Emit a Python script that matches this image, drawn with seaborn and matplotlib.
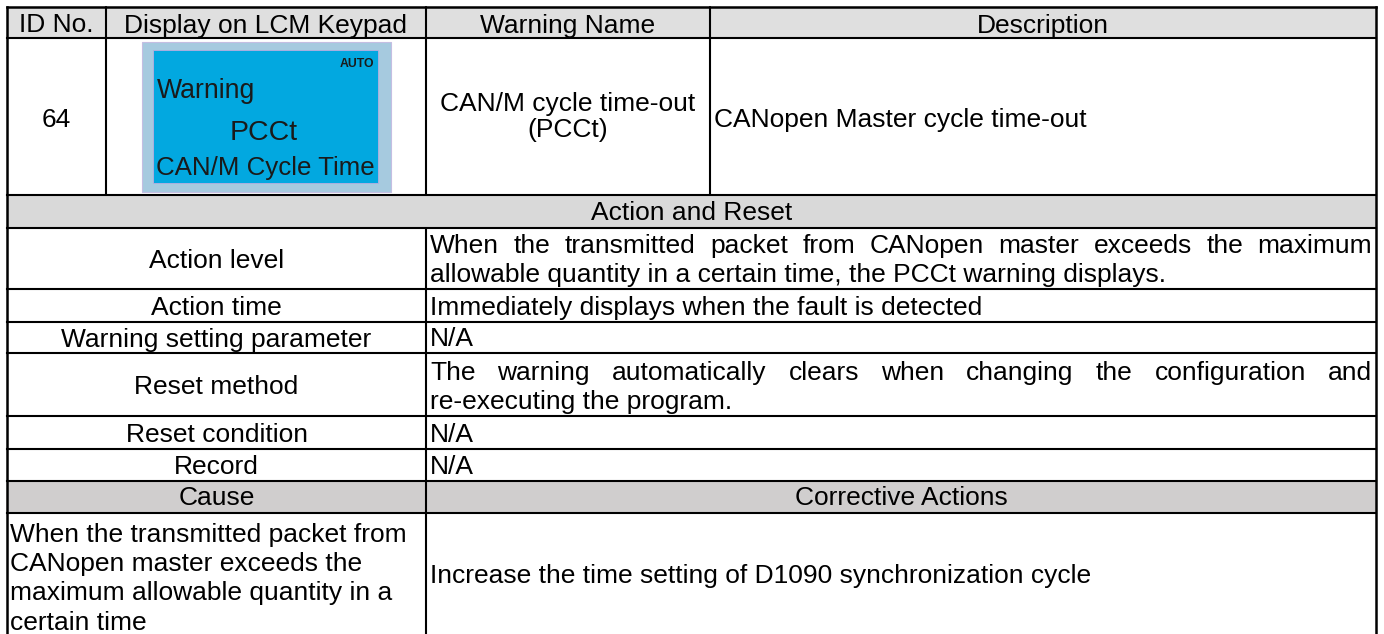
import matplotlib
matplotlib.use("Agg")
import matplotlib.pyplot as plt
import seaborn as sns
from matplotlib.patches import Rectangle

sns.set_theme(style="white")
plt.rcParams["font.family"] = ["Liberation Sans", "DejaVu Sans"]

# ---------------- data (table content) ----------------
header_labels = ["ID No.", "Display on LCM Keypad", "Warning Name", "Description"]
warning_id = "64"
lcm_mode = "AUTO"
lcm_lines = ["Warning", "PCCt", "CAN/M Cycle Time"]
warning_name = ["CAN/M cycle time-out", "(PCCt)"]
description = "CANopen Master cycle time-out"
section_title = "Action and Reset"
action_items = ["Action level", "Action time", "Warning setting parameter",
                "Reset method", "Reset condition", "Record"]
action_values = [
    ["When the transmitted packet from CANopen master exceeds the maximum",
     "allowable quantity in a certain time, the PCCt warning displays."],
    ["Immediately displays when the fault is detected"],
    ["N/A"],
    ["The warning automatically clears when changing the configuration and",
     "re-executing the program."],
    ["N/A"],
    ["N/A"],
]
cause_header = ["Cause", "Corrective Actions"]
cause_lines = ["When the transmitted packet from", "CANopen master exceeds the",
               "maximum allowable quantity in a", "certain time"]
corrective_action = "Increase the time setting of D1090 synchronization cycle"

# ---------------- layout (pixels) ----------------
W, H = 1384, 634
L, R, T = 7, 1376, 7
col_top = [L, 106, 426, 710, R]
col_mid = 426
row_edges = [7, 38, 195, 228, 289, 322, 353, 416, 449, 481, 513]
FS = 19
LINE = 29.3

fig = plt.figure(figsize=(W / 100, H / 100), dpi=100)
ax = fig.add_axes([0, 0, 1, 1])
ax.set_xlim(0, W)
ax.set_ylim(H, 0)
ax.axis("off")
renderer = fig.canvas.get_renderer()

# fills
ax.add_patch(Rectangle((L, row_edges[0]), R - L, row_edges[1] - row_edges[0],
                       fc="#DFDFDF", ec="none", zorder=0))
ax.add_patch(Rectangle((L, row_edges[2]), R - L, row_edges[3] - row_edges[2],
                       fc="#D9D9D9", ec="none", zorder=0))
ax.add_patch(Rectangle((L, row_edges[9]), R - L, row_edges[10] - row_edges[9],
                       fc="#D0CECE", ec="none", zorder=0))

# LCD picture
ax.add_patch(Rectangle((142, 42), 249, 150, fc="#A6CADF", ec="#C4BEE2", lw=0.8, zorder=1))
ax.add_patch(Rectangle((153, 50), 225, 133, fc="#02A8E0", ec="#B8AEE0", lw=0.6, zorder=1))
lcd_col = "#1A1A1A"
ax.text(374, 67, lcm_mode, fontsize=8.8, fontweight="bold", ha="right", va="baseline",
        color=lcd_col, zorder=2)
ax.text(157, 98, lcm_lines[0], fontsize=19.2, ha="left", va="baseline", color=lcd_col, zorder=2)
ax.text(264, 140, lcm_lines[1], fontsize=20.5, ha="center", va="baseline", color=lcd_col, zorder=2)
ax.text(265, 175, lcm_lines[2], fontsize=18.6, ha="center", va="baseline", color=lcd_col, zorder=2)

# grid lines
lw_in, lw_out = 1.5, 1.8
for y in row_edges[1:]:
    ax.plot([L, R], [y, y], color="black", lw=lw_in, solid_capstyle="projecting", zorder=3)
ax.plot([L, R], [T, T], color="black", lw=lw_out, solid_capstyle="projecting", zorder=3)
for x in (L, R):
    ax.plot([x, x], [T, H + 5], color="black", lw=lw_out, solid_capstyle="projecting", zorder=3)
for x in col_top[1:-1]:
    ax.plot([x, x], [row_edges[0], row_edges[2]], color="black", lw=lw_in, zorder=3)
ax.plot([col_mid, col_mid], [row_edges[3], H + 5], color="black", lw=lw_in, zorder=3)


def txt(x, y, s, ha="left", **kw):
    return ax.text(x, y, s, fontsize=FS, ha=ha, va="baseline", color="black", zorder=4, **kw)


def justified(line, x0, x1, y):
    words = line.split()
    items = [txt(0, y, w) for w in words]
    widths = [t.get_window_extent(renderer).width for t in items]
    gap = (x1 - x0 - sum(widths)) / max(len(words) - 1, 1)
    x = x0
    for t, w in zip(items, widths):
        t.set_x(x)
        x += w + gap


# header
for i, lab in enumerate(header_labels):
    cx = (col_top[i] + col_top[i + 1]) / 2
    txt(cx, 32.5, lab, ha="center")

# first data row
txt((col_top[0] + col_top[1]) / 2, 127, warning_id, ha="center")
txt((col_top[2] + col_top[3]) / 2, 111, warning_name[0], ha="center")
txt((col_top[2] + col_top[3]) / 2, 137.5, warning_name[1], ha="center")
txt(col_top[3] + 4, 126.5, description)

# section title
txt((L + R) / 2, 220.5, section_title, ha="center")

# action rows
lx = (L + col_mid) / 2
vx0, vx1 = col_mid + 4, R - 4
for k, (item, vals) in enumerate(zip(action_items, action_values)):
    top, bot = row_edges[3 + k], row_edges[4 + k]
    txt(lx, (top + bot) / 2 + 9.5, item, ha="center")
    n = len(vals)
    for j, line in enumerate(vals):
        y = bot - 7 - (n - 1 - j) * LINE
        if j < n - 1:
            justified(line, vx0, vx1, y)
        else:
            txt(vx0, y, line)

# cause header
txt(lx, 505, cause_header[0], ha="center")
txt((col_mid + R) / 2, 505, cause_header[1], ha="center")

# cause and corrective action
for j, line in enumerate(cause_lines):
    txt(L + 3, 542 + j * 29.2, line)
txt(vx0, 583, corrective_action)

fig.savefig("out.png", dpi=100)
